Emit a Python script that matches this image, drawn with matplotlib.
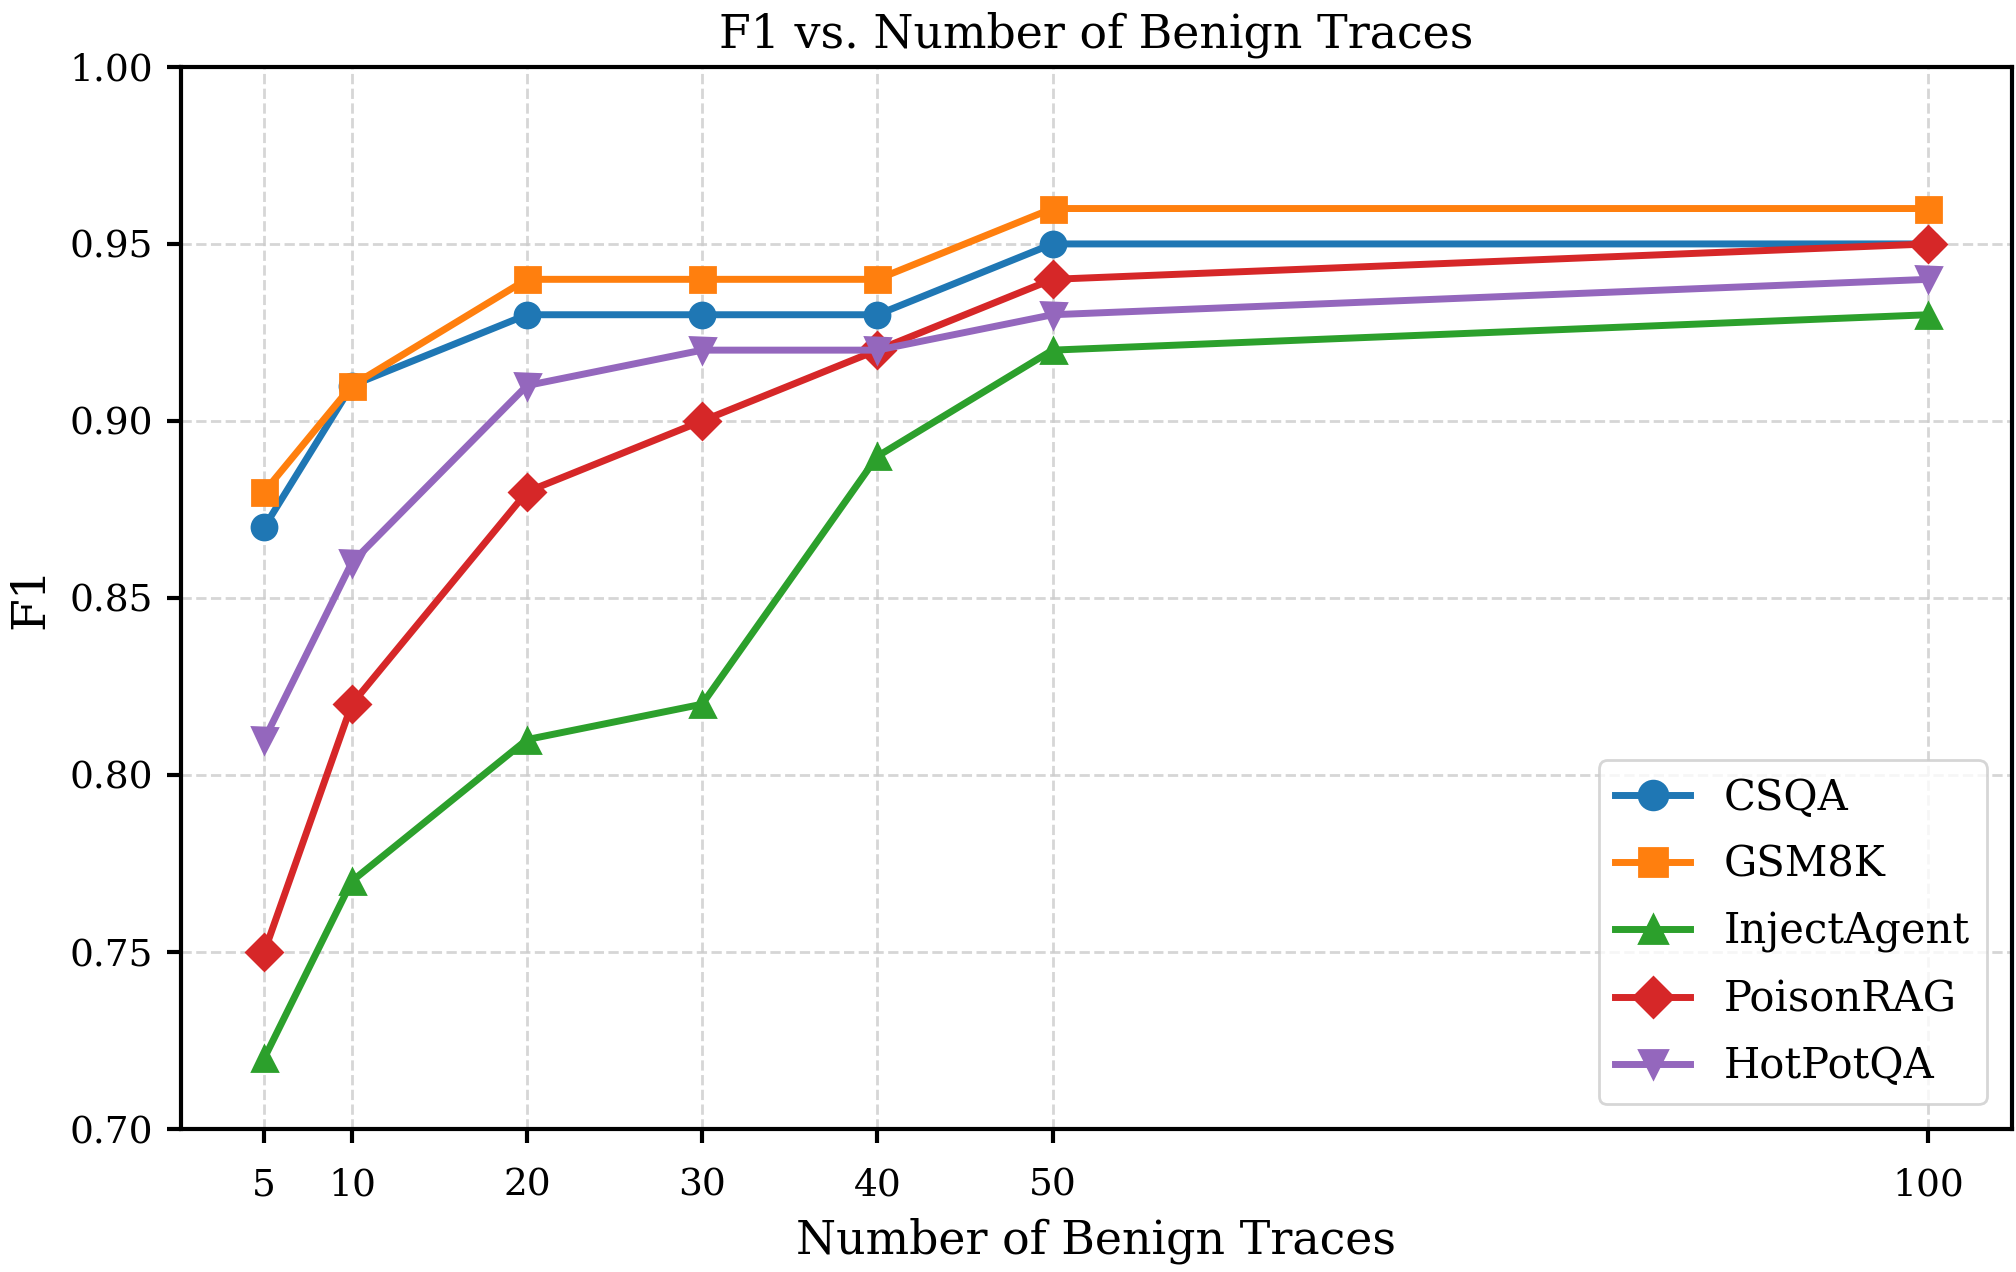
import matplotlib
matplotlib.use("Agg")
import matplotlib.pyplot as plt

plt.rcParams['font.family'] = ['DejaVu Serif']

x_values = [5, 10, 20, 30, 40, 50, 100]
series_names = ["CSQA", "GSM8K", "InjectAgent", "PoisonRAG", "HotPotQA"]
csqa = [0.87, 0.91, 0.93, 0.93, 0.93, 0.95, 0.95]
gsm8k = [0.88, 0.91, 0.94, 0.94, 0.94, 0.96, 0.96]
injectagent = [0.72, 0.77, 0.81, 0.82, 0.89, 0.92, 0.93]
poisonrag = [0.75, 0.82, 0.88, 0.90, 0.92, 0.94, 0.95]
hotpotqa = [0.81, 0.86, 0.91, 0.92, 0.92, 0.93, 0.94]
y_ticks = [0.70, 0.75, 0.80, 0.85, 0.90, 0.95, 1.00]

series = [csqa, gsm8k, injectagent, poisonrag, hotpotqa]
markers = ["o", "s", "^", "D", "v"]
colors = ["#1f77b4", "#ff7f0e", "#2ca02c", "#d62728", "#9467bd"]

fig = plt.figure(figsize=(10.08, 6.36), dpi=200)
ax = fig.add_axes([0.0898, 0.1124, 0.908, 0.835])

for name, vals, m, c in zip(series_names, series, markers, colors):
    ax.plot(x_values, vals, marker=m, color=c, label=name, linewidth=2.5, markersize=9)

ax.set_ylim(0.70, 1.00)
ax.set_yticks(y_ticks)
ax.set_yticklabels([f"{v:.2f}" for v in y_ticks])
ax.set_xticks(x_values)
ax.set_xticklabels([str(v) for v in x_values])
ax.grid(True, linestyle='--', color='#cccccc', alpha=0.8, linewidth=1.0)
for s in ax.spines.values():
    s.set_linewidth(1.5)
ax.tick_params(labelsize=13.5, width=1.5, length=5)
ax.tick_params(axis='x', pad=9)
ax.tick_params(axis='y', pad=5)
ax.set_xlabel("Number of Benign Traces", fontsize=16.5, labelpad=5)
ax.set_ylabel("F1", fontsize=17, labelpad=6)
ax.set_title("F1 vs. Number of Benign Traces", fontsize=16.5, pad=7)
ax.legend(loc='lower right', fontsize=15, borderaxespad=0.6,
          handlelength=1.8, labelspacing=0.6, markerscale=1.15)

fig.savefig("out.png", dpi=200)
